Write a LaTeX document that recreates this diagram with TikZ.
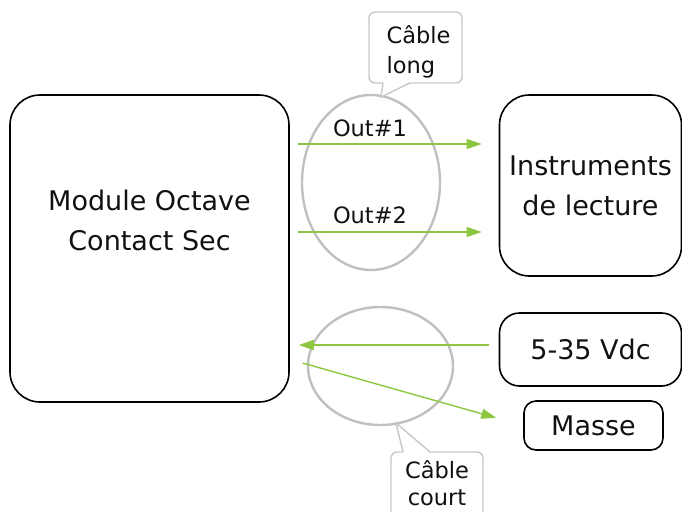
\documentclass[tikz,border=0pt]{standalone}
\usepackage{fontspec}
\setmainfont{DejaVu Sans}
\usetikzlibrary{arrows.meta}
\definecolor{wire}{HTML}{8DC63F}
\definecolor{ring}{HTML}{C0C0C0}
\definecolor{tipline}{HTML}{C8C8C8}
\definecolor{ink}{HTML}{111111}
\tikzset{
  block/.style={draw=black, line width=1.6pt, inner sep=0pt},
  bigtext/.style={font=\fontsize{27}{40}\selectfont, text=ink, align=center, inner sep=0pt},
  smalltext/.style={font=\fontsize{22.5}{30}\selectfont, text=ink, align=center, inner sep=0pt},
  wirearrow/.style={draw=wire, line width=1.4pt, -{Triangle[length=15pt,width=10pt]}},
  cableloop/.style={draw=ring, line width=2.4pt},
  callbox/.style={draw=tipline, line width=1.4pt, rounded corners=6pt, fill=white, inner sep=0pt},
  callptr/.style={draw=tipline, line width=1.4pt, line join=miter},
}
\begin{document}
\begin{tikzpicture}[x=1pt, y=-1pt]
\useasboundingbox (0,0) rectangle (682,511);

% blocks
\node[block, rounded corners=30pt, minimum width=279pt, minimum height=307pt] (main) at (149.5,248.5) {};
\node[bigtext] (maintxt) at (149.5,220) {Module Octave\\Contact Sec};
\node[block, bigtext, rounded corners=30pt, minimum width=182pt, minimum height=181pt] (instr) at (590.5,185.5) {Instruments\\de lecture};
\node[block, bigtext, rounded corners=20pt, minimum width=182pt, minimum height=73pt] (vdc) at (590.5,349.5) {5-35 Vdc};
\node[block, bigtext, rounded corners=12pt, minimum width=139pt, minimum height=49pt] (gnd) at (593.5,425.5) {Masse};

% cable bundles
\draw[cableloop] (371,182.5) ellipse [x radius=69, y radius=87.5];
\draw[cableloop] (380.5,366) ellipse [x radius=72.5, y radius=59];

% signal wires
\coordinate (y1) at (0,144);
\coordinate (y2) at (0,232);
\coordinate (y3) at (0,345);
\coordinate (y4) at (0,359.4);
\draw[wirearrow, shorten <=8pt, shorten >=17pt] (main.east |- y1) -- (instr.west |- y1);
\draw[wirearrow, shorten <=8pt, shorten >=17pt] (main.east |- y2) -- (instr.west |- y2);
\draw[wirearrow, shorten <=10pt, shorten >=9pt] (vdc.west |- y3) -- (main.east |- y3);
\draw[wirearrow, shorten <=13.5pt, shorten >=28pt] (main.east |- y4) -- (gnd.west);

\node[smalltext] (out1) at (370,128) {Out\#1};
\node[smalltext] (out2) at (370,215) {Out\#2};

% callout: long cable
\node[callbox, minimum width=93pt, minimum height=71pt] (clong) at (415.5,47.5) {};
\fill[white] (383.5,82) -- (381,97) -- (409.5,82) -- cycle;
\draw[callptr] (383,83) -- (381,97) -- (410,83);
\node[smalltext, align=left] (clongtxt) at (418.5,52) {Câble\\long};

% callout: short cable
\node[callbox, minimum width=92pt, minimum height=80pt] (cshort) at (437,492) {};
\fill[white] (403.5,453) -- (396,423) -- (429.5,453) -- cycle;
\draw[callptr] (403,452) -- (396,423) -- (430,452);
\node[smalltext, font=\fontsize{22.5}{27}\selectfont] (cshorttxt) at (437,483.5) {Câble\\court};
\end{tikzpicture}
\end{document}
